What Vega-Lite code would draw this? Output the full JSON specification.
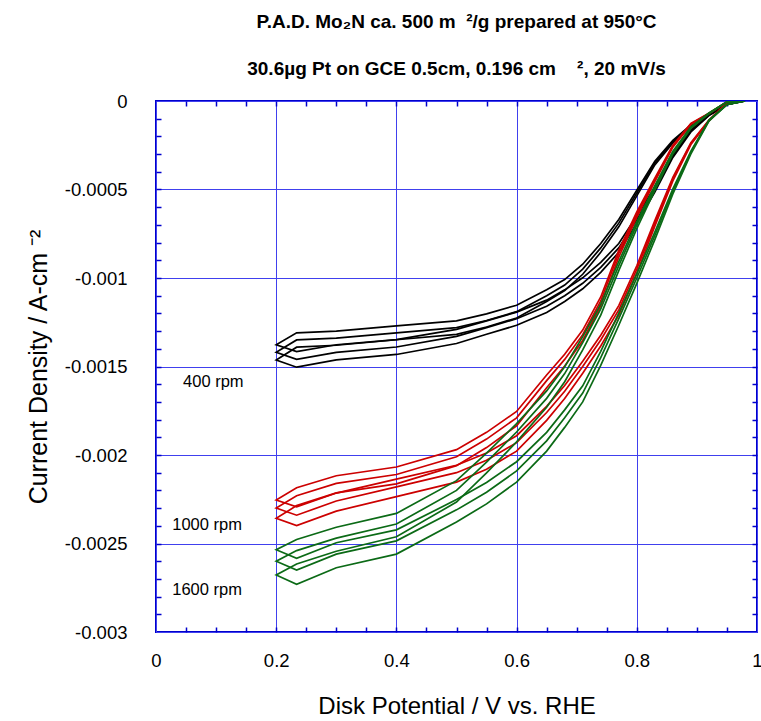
{
"$schema": "https://vega.github.io/schema/vega-lite/v6.json",
"width": 601, "height": 531,
"autosize": "none",
"padding": {"left": 156, "top": 101, "right": 4, "bottom": 89},
"config": {"view": {"stroke": "#0000cc", "strokeWidth": 2}, "font": "Liberation Sans"},
"title": {"text": ["P.A.D. Mo₂N ca. 500 m\u00a0\u00a0²/g prepared at 950°C", "30.6µg Pt on GCE 0.5cm, 0.196 cm\u00a0\u00a0\u00a0\u00a0², 20 mV/s"], "fontSize": 19, "fontWeight": "bold", "lineHeight": 47, "offset": 13, "anchor": "middle", "font": "Liberation Sans", "color": "black"},
"resolve": {"axis": {"x": "independent", "y": "independent"}},
"data": {"values": [
{"s":"k1","v":0.98,"j":0},{"s":"k1","v":0.95,"j":-0.000019},{"s":"k1","v":0.92,"j":-0.000078},{"s":"k1","v":0.89,"j":-0.000165},{"s":"k1","v":0.86,"j":-0.000301},{"s":"k1","v":0.83,"j":-0.000485},{"s":"k1","v":0.8,"j":-0.00065},{"s":"k1","v":0.77,"j":-0.000805},{"s":"k1","v":0.74,"j":-0.000912},{"s":"k1","v":0.71,"j":-0.000999},{"s":"k1","v":0.68,"j":-0.001067},{"s":"k1","v":0.65,"j":-0.001125},{"s":"k1","v":0.6,"j":-0.001193},{"s":"k1","v":0.55,"j":-0.001242},{"s":"k1","v":0.5,"j":-0.00129},{"s":"k1","v":0.4,"j":-0.001348},{"s":"k1","v":0.3,"j":-0.001377},{"s":"k1","v":0.234,"j":-0.001416},
{"s":"k1","v":0.2,"j":-0.001377},
{"s":"k1","v":0.234,"j":-0.00131},{"s":"k1","v":0.3,"j":-0.0013},{"s":"k1","v":0.4,"j":-0.001271},{"s":"k1","v":0.5,"j":-0.001242},{"s":"k1","v":0.55,"j":-0.001203},{"s":"k1","v":0.6,"j":-0.001154},{"s":"k1","v":0.65,"j":-0.001067},{"s":"k1","v":0.68,"j":-0.001009},{"s":"k1","v":0.71,"j":-0.000922},{"s":"k1","v":0.74,"j":-0.000805},{"s":"k1","v":0.77,"j":-0.000669},{"s":"k1","v":0.8,"j":-0.000504},{"s":"k1","v":0.83,"j":-0.00034},{"s":"k1","v":0.86,"j":-0.000223},{"s":"k1","v":0.89,"j":-0.000136},{"s":"k1","v":0.92,"j":-0.000078},{"s":"k1","v":0.95,"j":-0.00001},{"s":"k1","v":0.98,"j":0},

{"s":"k2","v":0.98,"j":0},{"s":"k2","v":0.95,"j":-0.00002},{"s":"k2","v":0.92,"j":-0.00008},{"s":"k2","v":0.89,"j":-0.00017},{"s":"k2","v":0.86,"j":-0.00031},{"s":"k2","v":0.83,"j":-0.0005},{"s":"k2","v":0.8,"j":-0.00067},{"s":"k2","v":0.77,"j":-0.00083},{"s":"k2","v":0.74,"j":-0.00094},{"s":"k2","v":0.71,"j":-0.00103},{"s":"k2","v":0.68,"j":-0.0011},{"s":"k2","v":0.65,"j":-0.00116},{"s":"k2","v":0.6,"j":-0.00123},{"s":"k2","v":0.55,"j":-0.00128},{"s":"k2","v":0.5,"j":-0.00133},{"s":"k2","v":0.4,"j":-0.00139},{"s":"k2","v":0.3,"j":-0.00142},{"s":"k2","v":0.234,"j":-0.00146},
{"s":"k2","v":0.2,"j":-0.00142},
{"s":"k2","v":0.234,"j":-0.00135},{"s":"k2","v":0.3,"j":-0.00134},{"s":"k2","v":0.4,"j":-0.00131},{"s":"k2","v":0.5,"j":-0.00128},{"s":"k2","v":0.55,"j":-0.00124},{"s":"k2","v":0.6,"j":-0.00119},{"s":"k2","v":0.65,"j":-0.0011},{"s":"k2","v":0.68,"j":-0.00104},{"s":"k2","v":0.71,"j":-0.00095},{"s":"k2","v":0.74,"j":-0.00083},{"s":"k2","v":0.77,"j":-0.00069},{"s":"k2","v":0.8,"j":-0.00052},{"s":"k2","v":0.83,"j":-0.00035},{"s":"k2","v":0.86,"j":-0.00023},{"s":"k2","v":0.89,"j":-0.00014},{"s":"k2","v":0.92,"j":-0.00008},{"s":"k2","v":0.95,"j":-0.00001},{"s":"k2","v":0.98,"j":0},

{"s":"k3","v":0.98,"j":0},{"s":"k3","v":0.95,"j":-0.000021},{"s":"k3","v":0.92,"j":-0.000082},{"s":"k3","v":0.89,"j":-0.000175},{"s":"k3","v":0.86,"j":-0.000319},{"s":"k3","v":0.83,"j":-0.000515},{"s":"k3","v":0.8,"j":-0.00069},{"s":"k3","v":0.77,"j":-0.000855},{"s":"k3","v":0.74,"j":-0.000968},{"s":"k3","v":0.71,"j":-0.001061},{"s":"k3","v":0.68,"j":-0.001133},{"s":"k3","v":0.65,"j":-0.001195},{"s":"k3","v":0.6,"j":-0.001267},{"s":"k3","v":0.55,"j":-0.001318},{"s":"k3","v":0.5,"j":-0.00137},{"s":"k3","v":0.4,"j":-0.001432},{"s":"k3","v":0.3,"j":-0.001463},{"s":"k3","v":0.234,"j":-0.001504},
{"s":"k3","v":0.2,"j":-0.001463},
{"s":"k3","v":0.234,"j":-0.001391},{"s":"k3","v":0.3,"j":-0.00138},{"s":"k3","v":0.4,"j":-0.001349},{"s":"k3","v":0.5,"j":-0.001318},{"s":"k3","v":0.55,"j":-0.001277},{"s":"k3","v":0.6,"j":-0.001226},{"s":"k3","v":0.65,"j":-0.001133},{"s":"k3","v":0.68,"j":-0.001071},{"s":"k3","v":0.71,"j":-0.000979},{"s":"k3","v":0.74,"j":-0.000855},{"s":"k3","v":0.77,"j":-0.000711},{"s":"k3","v":0.8,"j":-0.000536},{"s":"k3","v":0.83,"j":-0.000361},{"s":"k3","v":0.86,"j":-0.000237},{"s":"k3","v":0.89,"j":-0.000144},{"s":"k3","v":0.92,"j":-0.000082},{"s":"k3","v":0.95,"j":-0.00001},{"s":"k3","v":0.98,"j":0},

{"s":"r1","v":0.98,"j":0},{"s":"r1","v":0.95,"j":-0.00001},{"s":"r1","v":0.92,"j":-0.000108},{"s":"r1","v":0.89,"j":-0.000235},{"s":"r1","v":0.86,"j":-0.000431},{"s":"r1","v":0.83,"j":-0.000676},{"s":"r1","v":0.8,"j":-0.000931},{"s":"r1","v":0.77,"j":-0.001156},{"s":"r1","v":0.74,"j":-0.001323},{"s":"r1","v":0.71,"j":-0.00147},{"s":"r1","v":0.68,"j":-0.001607},{"s":"r1","v":0.65,"j":-0.001725},{"s":"r1","v":0.6,"j":-0.001891},{"s":"r1","v":0.55,"j":-0.001989},{"s":"r1","v":0.5,"j":-0.002058},{"s":"r1","v":0.4,"j":-0.002136},{"s":"r1","v":0.3,"j":-0.002215},{"s":"r1","v":0.234,"j":-0.002293},
{"s":"r1","v":0.2,"j":-0.002254},
{"s":"r1","v":0.234,"j":-0.002185},{"s":"r1","v":0.3,"j":-0.002117},{"s":"r1","v":0.4,"j":-0.002068},{"s":"r1","v":0.5,"j":-0.00197},{"s":"r1","v":0.55,"j":-0.001872},{"s":"r1","v":0.6,"j":-0.001754},{"s":"r1","v":0.65,"j":-0.001548},{"s":"r1","v":0.68,"j":-0.001431},{"s":"r1","v":0.71,"j":-0.001294},{"s":"r1","v":0.74,"j":-0.001107},{"s":"r1","v":0.77,"j":-0.000843},{"s":"r1","v":0.8,"j":-0.000627},{"s":"r1","v":0.83,"j":-0.000436},{"s":"r1","v":0.86,"j":-0.00025},{"s":"r1","v":0.89,"j":-0.000127},{"s":"r1","v":0.92,"j":-0.000069},{"s":"r1","v":0.95,"j":-0.000005},{"s":"r1","v":0.98,"j":0},

{"s":"r2","v":0.98,"j":0},{"s":"r2","v":0.95,"j":-0.00001},{"s":"r2","v":0.92,"j":-0.00011},{"s":"r2","v":0.89,"j":-0.00024},{"s":"r2","v":0.86,"j":-0.00044},{"s":"r2","v":0.83,"j":-0.00069},{"s":"r2","v":0.8,"j":-0.00095},{"s":"r2","v":0.77,"j":-0.00118},{"s":"r2","v":0.74,"j":-0.00135},{"s":"r2","v":0.71,"j":-0.0015},{"s":"r2","v":0.68,"j":-0.00164},{"s":"r2","v":0.65,"j":-0.00176},{"s":"r2","v":0.6,"j":-0.00193},{"s":"r2","v":0.55,"j":-0.00203},{"s":"r2","v":0.5,"j":-0.0021},{"s":"r2","v":0.4,"j":-0.00218},{"s":"r2","v":0.3,"j":-0.00226},{"s":"r2","v":0.234,"j":-0.00234},
{"s":"r2","v":0.2,"j":-0.0023},
{"s":"r2","v":0.234,"j":-0.00223},{"s":"r2","v":0.3,"j":-0.00216},{"s":"r2","v":0.4,"j":-0.00211},{"s":"r2","v":0.5,"j":-0.00201},{"s":"r2","v":0.55,"j":-0.00191},{"s":"r2","v":0.6,"j":-0.00179},{"s":"r2","v":0.65,"j":-0.00158},{"s":"r2","v":0.68,"j":-0.00146},{"s":"r2","v":0.71,"j":-0.00132},{"s":"r2","v":0.74,"j":-0.00113},{"s":"r2","v":0.77,"j":-0.00086},{"s":"r2","v":0.8,"j":-0.00064},{"s":"r2","v":0.83,"j":-0.000445},{"s":"r2","v":0.86,"j":-0.000255},{"s":"r2","v":0.89,"j":-0.00013},{"s":"r2","v":0.92,"j":-0.00007},{"s":"r2","v":0.95,"j":-0.000005},{"s":"r2","v":0.98,"j":0},

{"s":"r3","v":0.98,"j":0},{"s":"r3","v":0.95,"j":-0.00001},{"s":"r3","v":0.92,"j":-0.000113},{"s":"r3","v":0.89,"j":-0.000246},{"s":"r3","v":0.86,"j":-0.000451},{"s":"r3","v":0.83,"j":-0.000707},{"s":"r3","v":0.8,"j":-0.000974},{"s":"r3","v":0.77,"j":-0.00121},{"s":"r3","v":0.74,"j":-0.001384},{"s":"r3","v":0.71,"j":-0.001538},{"s":"r3","v":0.68,"j":-0.001681},{"s":"r3","v":0.65,"j":-0.001804},{"s":"r3","v":0.6,"j":-0.001978},{"s":"r3","v":0.55,"j":-0.002081},{"s":"r3","v":0.5,"j":-0.002153},{"s":"r3","v":0.4,"j":-0.002235},{"s":"r3","v":0.3,"j":-0.002317},{"s":"r3","v":0.234,"j":-0.002399},
{"s":"r3","v":0.2,"j":-0.002358},
{"s":"r3","v":0.234,"j":-0.002286},{"s":"r3","v":0.3,"j":-0.002214},{"s":"r3","v":0.4,"j":-0.002163},{"s":"r3","v":0.5,"j":-0.00206},{"s":"r3","v":0.55,"j":-0.001958},{"s":"r3","v":0.6,"j":-0.001835},{"s":"r3","v":0.65,"j":-0.00162},{"s":"r3","v":0.68,"j":-0.001497},{"s":"r3","v":0.71,"j":-0.001353},{"s":"r3","v":0.74,"j":-0.001158},{"s":"r3","v":0.77,"j":-0.000882},{"s":"r3","v":0.8,"j":-0.000656},{"s":"r3","v":0.83,"j":-0.000456},{"s":"r3","v":0.86,"j":-0.000261},{"s":"r3","v":0.89,"j":-0.000133},{"s":"r3","v":0.92,"j":-0.000072},{"s":"r3","v":0.95,"j":-0.000005},{"s":"r3","v":0.98,"j":0},

{"s":"g1","v":0.98,"j":0},{"s":"g1","v":0.95,"j":-0.00002},{"s":"g1","v":0.92,"j":-0.000107},{"s":"g1","v":0.89,"j":-0.000283},{"s":"g1","v":0.86,"j":-0.000497},{"s":"g1","v":0.83,"j":-0.000741},{"s":"g1","v":0.8,"j":-0.000975},{"s":"g1","v":0.77,"j":-0.001199},{"s":"g1","v":0.74,"j":-0.001414},{"s":"g1","v":0.71,"j":-0.001609},{"s":"g1","v":0.68,"j":-0.001745},{"s":"g1","v":0.65,"j":-0.001872},{"s":"g1","v":0.6,"j":-0.002038},{"s":"g1","v":0.55,"j":-0.002155},{"s":"g1","v":0.5,"j":-0.002252},{"s":"g1","v":0.4,"j":-0.002423},{"s":"g1","v":0.3,"j":-0.002496},{"s":"g1","v":0.234,"j":-0.002584},
{"s":"g1","v":0.2,"j":-0.002535},
{"s":"g1","v":0.234,"j":-0.002477},{"s":"g1","v":0.3,"j":-0.002408},{"s":"g1","v":0.4,"j":-0.00233},{"s":"g1","v":0.5,"j":-0.002145},{"s":"g1","v":0.55,"j":-0.001989},{"s":"g1","v":0.6,"j":-0.001823},{"s":"g1","v":0.65,"j":-0.001638},{"s":"g1","v":0.68,"j":-0.001502},{"s":"g1","v":0.71,"j":-0.001331},{"s":"g1","v":0.74,"j":-0.001146},{"s":"g1","v":0.77,"j":-0.000907},{"s":"g1","v":0.8,"j":-0.000683},{"s":"g1","v":0.83,"j":-0.000478},{"s":"g1","v":0.86,"j":-0.000283},{"s":"g1","v":0.89,"j":-0.000146},{"s":"g1","v":0.92,"j":-0.000068},{"s":"g1","v":0.95,"j":-0.000005},{"s":"g1","v":0.98,"j":0},

{"s":"g2","v":0.98,"j":0},{"s":"g2","v":0.95,"j":-0.00002},{"s":"g2","v":0.92,"j":-0.00011},{"s":"g2","v":0.89,"j":-0.00029},{"s":"g2","v":0.86,"j":-0.00051},{"s":"g2","v":0.83,"j":-0.00076},{"s":"g2","v":0.8,"j":-0.001},{"s":"g2","v":0.77,"j":-0.00123},{"s":"g2","v":0.74,"j":-0.00145},{"s":"g2","v":0.71,"j":-0.00165},{"s":"g2","v":0.68,"j":-0.00179},{"s":"g2","v":0.65,"j":-0.00192},{"s":"g2","v":0.6,"j":-0.00209},{"s":"g2","v":0.55,"j":-0.00221},{"s":"g2","v":0.5,"j":-0.00231},{"s":"g2","v":0.4,"j":-0.002485},{"s":"g2","v":0.3,"j":-0.00256},{"s":"g2","v":0.234,"j":-0.00265},
{"s":"g2","v":0.2,"j":-0.0026},
{"s":"g2","v":0.234,"j":-0.00254},{"s":"g2","v":0.3,"j":-0.00247},{"s":"g2","v":0.4,"j":-0.00239},{"s":"g2","v":0.5,"j":-0.0022},{"s":"g2","v":0.55,"j":-0.00204},{"s":"g2","v":0.6,"j":-0.00187},{"s":"g2","v":0.65,"j":-0.00168},{"s":"g2","v":0.68,"j":-0.00154},{"s":"g2","v":0.71,"j":-0.001365},{"s":"g2","v":0.74,"j":-0.001175},{"s":"g2","v":0.77,"j":-0.00093},{"s":"g2","v":0.8,"j":-0.0007},{"s":"g2","v":0.83,"j":-0.00049},{"s":"g2","v":0.86,"j":-0.00029},{"s":"g2","v":0.89,"j":-0.00015},{"s":"g2","v":0.92,"j":-0.00007},{"s":"g2","v":0.95,"j":-0.000005},{"s":"g2","v":0.98,"j":0},

{"s":"g3","v":0.98,"j":0},{"s":"g3","v":0.95,"j":-0.000021},{"s":"g3","v":0.92,"j":-0.000113},{"s":"g3","v":0.89,"j":-0.000299},{"s":"g3","v":0.86,"j":-0.000525},{"s":"g3","v":0.83,"j":-0.000783},{"s":"g3","v":0.8,"j":-0.00103},{"s":"g3","v":0.77,"j":-0.001267},{"s":"g3","v":0.74,"j":-0.001494},{"s":"g3","v":0.71,"j":-0.0017},{"s":"g3","v":0.68,"j":-0.001844},{"s":"g3","v":0.65,"j":-0.001978},{"s":"g3","v":0.6,"j":-0.002153},{"s":"g3","v":0.55,"j":-0.002276},{"s":"g3","v":0.5,"j":-0.002379},{"s":"g3","v":0.4,"j":-0.00256},{"s":"g3","v":0.3,"j":-0.002637},{"s":"g3","v":0.234,"j":-0.00273},
{"s":"g3","v":0.2,"j":-0.002678},
{"s":"g3","v":0.234,"j":-0.002616},{"s":"g3","v":0.3,"j":-0.002544},{"s":"g3","v":0.4,"j":-0.002462},{"s":"g3","v":0.5,"j":-0.002266},{"s":"g3","v":0.55,"j":-0.002101},{"s":"g3","v":0.6,"j":-0.001926},{"s":"g3","v":0.65,"j":-0.00173},{"s":"g3","v":0.68,"j":-0.001586},{"s":"g3","v":0.71,"j":-0.001406},{"s":"g3","v":0.74,"j":-0.00121},{"s":"g3","v":0.77,"j":-0.000958},{"s":"g3","v":0.8,"j":-0.000721},{"s":"g3","v":0.83,"j":-0.000505},{"s":"g3","v":0.86,"j":-0.000299},{"s":"g3","v":0.89,"j":-0.000155},{"s":"g3","v":0.92,"j":-0.000072},{"s":"g3","v":0.95,"j":-0.000005},{"s":"g3","v":0.98,"j":0}
]},
"layer": [
{
"mark": {"type": "line", "strokeWidth": 1.7, "clip": true},
"encoding": {
"x": {"field": "v", "type": "quantitative", "scale": {"domain": [0, 1], "nice": false, "zero": false},
 "axis": {"orient": "bottom", "values": [0, 0.2, 0.4, 0.6, 0.8, 1], "grid": true, "gridColor": "#4040ee", "gridWidth": 1, "domain": false, "ticks": false, "labelFontSize": 18.5, "labelColor": "black", "labelPadding": 19, "labelFlush": false, "labelOverlap": false, "labelExpr": "toString(datum.value)", "title": "Disk Potential / V vs. RHE", "titleFontSize": 24, "titleFontWeight": "normal", "titleColor": "black", "titlePadding": 25}},
"y": {"field": "j", "type": "quantitative", "scale": {"domain": [-0.003, 0], "nice": false, "zero": false},
 "axis": {"orient": "left", "values": [0, -0.0005, -0.001, -0.0015, -0.002, -0.0025, -0.003], "grid": true, "gridColor": "#4040ee", "gridWidth": 1, "domain": false, "ticks": false, "labelFontSize": 18.5, "labelColor": "black", "labelPadding": 29, "labelFlush": false, "labelOverlap": false, "labelExpr": "toString(datum.value)", "title": "Current Density / A-cm ⁻²", "titleFontSize": 25, "titleFontWeight": "normal", "titleColor": "black", "titlePadding": 13}},
"color": {"field": "s", "type": "nominal", "scale": {"domain": ["k1","k2","k3","r1","r2","r3","g1","g2","g3"], "range": ["#000000","#000000","#000000","#cc0000","#cc0000","#cc0000","#0b6a16","#0b6a16","#0b6a16"]}, "legend": null},
"order": {"value": null}
}
},
{
"mark": {"type": "point", "opacity": 0},
"encoding": {
"x": {"field": "v", "type": "quantitative", "axis": {"orient": "bottom", "values": [0.05,0.1,0.15,0.2,0.25,0.3,0.35,0.4,0.45,0.5,0.55,0.6,0.65,0.7,0.75,0.8,0.85,0.9,0.95], "labels": false, "grid": false, "domain": false, "tickSize": -5, "tickColor": "#0000cc", "tickWidth": 1.5, "title": null}},
"y": {"field": "j", "type": "quantitative", "axis": {"orient": "left", "values": [-0.0001,-0.0002,-0.0003,-0.0004,-0.0005,-0.0006,-0.0007,-0.0008,-0.0009,-0.001,-0.0011,-0.0012,-0.0013,-0.0014,-0.0015,-0.0016,-0.0017,-0.0018,-0.0019,-0.002,-0.0021,-0.0022,-0.0023,-0.0024,-0.0025,-0.0026,-0.0027,-0.0028,-0.0029], "labels": false, "grid": false, "domain": false, "tickSize": -5, "tickColor": "#0000cc", "tickWidth": 1.5, "title": null}}
}
},
{
"mark": {"type": "point", "opacity": 0},
"encoding": {
"x": {"field": "v", "type": "quantitative", "axis": {"orient": "top", "values": [0.05,0.1,0.15,0.2,0.25,0.3,0.35,0.4,0.45,0.5,0.55,0.6,0.65,0.7,0.75,0.8,0.85,0.9,0.95], "labels": false, "grid": false, "domain": false, "tickSize": -5, "tickColor": "#0000cc", "tickWidth": 1.5, "title": null}},
"y": {"field": "j", "type": "quantitative", "axis": {"orient": "right", "values": [-0.0001,-0.0002,-0.0003,-0.0004,-0.0005,-0.0006,-0.0007,-0.0008,-0.0009,-0.001,-0.0011,-0.0012,-0.0013,-0.0014,-0.0015,-0.0016,-0.0017,-0.0018,-0.0019,-0.002,-0.0021,-0.0022,-0.0023,-0.0024,-0.0025,-0.0026,-0.0027,-0.0028,-0.0029], "labels": false, "grid": false, "domain": false, "tickSize": -5, "tickColor": "#0000cc", "tickWidth": 1.5, "title": null}}
}
},
{
"data": {"values": [
{"label": "400 rpm", "v": 0.045, "j": -0.00159},
{"label": "1000 rpm", "v": 0.027, "j": -0.002396},
{"label": "1600 rpm", "v": 0.027, "j": -0.002763}
]},
"mark": {"type": "text", "align": "left", "baseline": "middle", "fontSize": 16.5, "font": "Liberation Sans", "color": "black"},
"encoding": {
"x": {"field": "v", "type": "quantitative", "axis": null},
"y": {"field": "j", "type": "quantitative", "axis": null},
"text": {"field": "label"}
}
}
]
}
